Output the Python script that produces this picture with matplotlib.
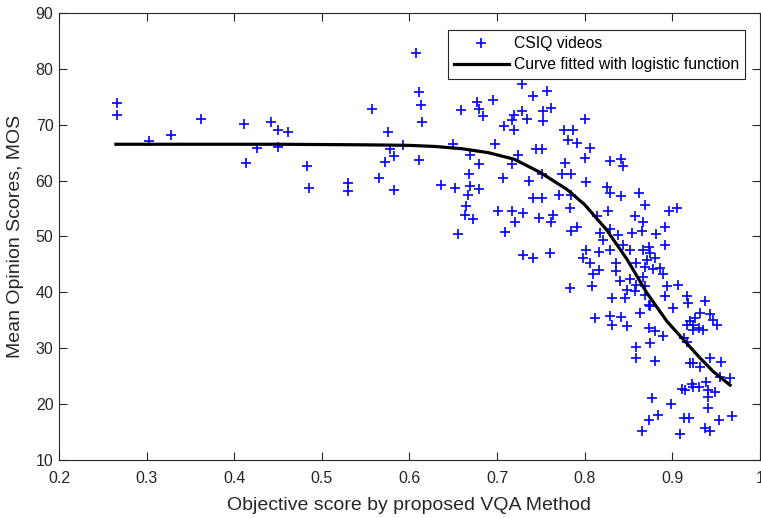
import numpy as np
import matplotlib
matplotlib.use("Agg")
import matplotlib.pyplot as plt

plt.rcParams['font.family'] = ['Liberation Sans', 'DejaVu Sans']

"""scatter points read off the figure (objective score, MOS)"""
obj_score = [
    0.266, 0.266, 0.303, 0.328, 0.362, 0.411, 0.413, 0.426, 0.442, 0.450,
    0.461, 0.450, 0.483, 0.485, 0.530, 0.530, 0.557, 0.565,
    0.575, 0.578, 0.582, 0.572, 0.593, 0.611, 0.582, 0.607, 0.611, 0.613, 0.614,
    0.636, 0.650, 0.652, 0.655, 0.659, 0.663, 0.665, 0.667, 0.668, 0.669,
    0.669, 0.673, 0.677, 0.679, 0.679, 0.679, 0.684, 0.695, 0.698, 0.701,
    0.707, 0.708, 0.709, 0.717, 0.717, 0.717, 0.719, 0.719, 0.721, 0.724,
    0.728, 0.728, 0.730, 0.730, 0.734, 0.736, 0.741, 0.741, 0.741, 0.745,
    0.748, 0.751, 0.751, 0.751, 0.753, 0.753, 0.757, 0.760, 0.762, 0.762, 0.764,
    0.771, 0.774, 0.776, 0.778, 0.781, 0.783, 0.783, 0.785, 0.785, 0.785,
    0.787, 0.791, 0.791, 0.798, 0.800, 0.800, 0.802, 0.802,
    0.806, 0.806, 0.808, 0.810, 0.812, 0.814, 0.816, 0.816, 0.818, 0.821,
    0.826, 0.829, 0.827, 0.829, 0.829, 0.829, 0.829, 0.831, 0.831, 0.836,
    0.836, 0.838, 0.840, 0.841, 0.842, 0.842, 0.844, 0.844, 0.846, 0.848, 0.848,
    0.852, 0.852, 0.854, 0.858, 0.858, 0.859, 0.859, 0.859, 0.859, 0.862,
    0.863, 0.865, 0.865, 0.867, 0.867, 0.867, 0.869, 0.869, 0.869, 0.869,
    0.871, 0.873, 0.873, 0.873, 0.873, 0.875, 0.875, 0.875, 0.877, 0.878,
    0.880, 0.880, 0.880, 0.882, 0.884, 0.886, 0.890, 0.890, 0.892, 0.892,
    0.892, 0.894, 0.896, 0.899,
    0.901, 0.905, 0.907, 0.909, 0.911, 0.913, 0.913, 0.915, 0.917, 0.917,
    0.917, 0.918, 0.919, 0.920, 0.920, 0.922, 0.924, 0.924, 0.924, 0.924,
    0.926, 0.930, 0.930, 0.932, 0.932, 0.935, 0.937, 0.937, 0.939, 0.941,
    0.941, 0.941, 0.943, 0.943, 0.943, 0.947, 0.949, 0.951, 0.953, 0.955,
    0.956, 0.966, 0.968,
]
mos = [
    73.9, 71.8, 67.0, 68.2, 71.1, 70.2, 63.2, 65.9, 70.5, 69.0,
    68.7, 66.1, 62.7, 58.7, 59.6, 58.1, 72.9, 60.4,
    68.7, 65.6, 64.4, 63.3, 66.4, 63.7, 58.3, 82.9, 75.8, 73.6, 70.5,
    59.2, 66.6, 58.6, 50.4, 72.7, 53.8, 55.5, 57.5, 61.2, 59.0,
    64.5, 53.1, 74.0, 72.8, 62.9, 58.5, 71.6, 74.4, 66.5, 54.5,
    60.5, 69.7, 50.8, 54.5, 62.9, 70.9, 71.8, 69.1, 52.5, 64.5,
    77.2, 72.4, 54.2, 46.7, 71.1, 59.9, 75.1, 56.9, 46.1, 65.7,
    53.3, 65.7, 61.1, 56.9, 72.4, 70.6, 76.0, 47.0, 73.0, 52.5, 53.9,
    57.5, 61.1, 69.0, 63.2, 67.3, 55.1, 40.7, 61.1, 57.5, 50.9,
    69.0, 66.7, 51.7, 46.1, 71.1, 64.1, 59.7, 47.6,
    65.8, 45.2, 41.2, 43.2, 35.4, 53.6, 47.3, 44.0, 50.6, 49.4,
    58.8, 57.8, 54.5, 63.5, 51.3, 47.6, 35.7, 39.0, 34.2, 45.3,
    43.9, 50.3, 42.0, 35.6, 63.8, 57.2, 62.6, 48.5, 39.0, 40.5, 33.9,
    47.6, 42.3, 50.6, 53.6, 40.2, 45.3, 41.4, 30.2, 28.2, 57.7,
    36.3, 50.9, 15.1, 52.5, 47.6, 42.8, 55.7, 44.6, 41.1, 39.6,
    45.8, 48.2, 37.8, 33.6, 17.2, 47.0, 37.5, 30.9, 21.1, 44.2,
    46.1, 33.0, 27.8, 50.5, 18.1, 44.4, 43.2, 32.1, 51.7, 48.5,
    39.3, 41.1, 54.5, 20.0,
    37.2, 55.1, 41.3, 14.6, 22.7, 31.8, 17.5, 22.5, 39.3, 34.2,
    31.2, 38.1, 17.5, 34.8, 27.4, 23.6, 34.2, 33.3, 27.3, 23.1,
    35.4, 33.6, 23.0, 36.3, 26.7, 33.3, 38.4, 15.7, 23.9, 22.5,
    21.3, 19.3, 36.2, 28.2, 15.1, 35.1, 22.1, 34.2, 17.2, 24.9,
    27.6, 24.6, 17.9,
]

"""logistic fit curve, traced from the figure"""
fit_x = [0.265, 0.35, 0.45, 0.55, 0.60, 0.63, 0.66, 0.69, 0.72, 0.75,
         0.78, 0.80, 0.825, 0.848, 0.871, 0.894, 0.913, 0.932, 0.947, 0.966]
fit_y = [66.5, 66.5, 66.5, 66.4, 66.3, 66.1, 65.7, 65.0, 63.8, 61.4,
         58.4, 55.7, 51.2, 46.0, 39.9, 34.8, 31.5, 28.2, 25.8, 23.4]

fig = plt.figure(figsize=(7.61, 5.18), dpi=100)
ax = fig.add_axes([0.0775, 0.112, 0.921, 0.863])

ax.plot(obj_score, mos, '+', color='#0000ff', markersize=7.5, mew=1.2,
        label='CSIQ videos')
ax.plot(fit_x, fit_y, 'k-', linewidth=2.3,
        label='Curve fitted with logistic function')

ax.set_xlim(0.2, 1.0)
ax.set_ylim(10, 90)
ax.set_xticks(np.arange(0.2, 1.01, 0.1))
ax.set_xticklabels(['0.2', '0.3', '0.4', '0.5', '0.6', '0.7', '0.8', '0.9', '1'])
ax.set_yticks(np.arange(10, 91, 10))

ax.tick_params(direction='in', length=5.8, width=0.8, top=True, right=True,
               labelsize=11.5, colors='#262626', pad=4)
ax.tick_params(axis='x', pad=8)
for s in ax.spines.values():
    s.set_color('#262626')
    s.set_linewidth(0.8)

ax.set_xlabel('Objective score by proposed VQA Method', fontsize=14,
              color='#262626', labelpad=8)
ax.set_ylabel('Mean Opinion Scores, MOS', fontsize=14, color='#262626',
              labelpad=8)

leg = ax.legend(loc='upper right', bbox_to_anchor=(0.979, 0.962),
                borderaxespad=0, fontsize=11.3, fancybox=False,
                handlelength=3.5, handletextpad=0.3, borderpad=0.4,
                labelspacing=0.4, framealpha=1)
leg.get_frame().set_edgecolor('#262626')
leg.get_frame().set_linewidth(0.8)

fig.savefig('out.png', dpi=100)
